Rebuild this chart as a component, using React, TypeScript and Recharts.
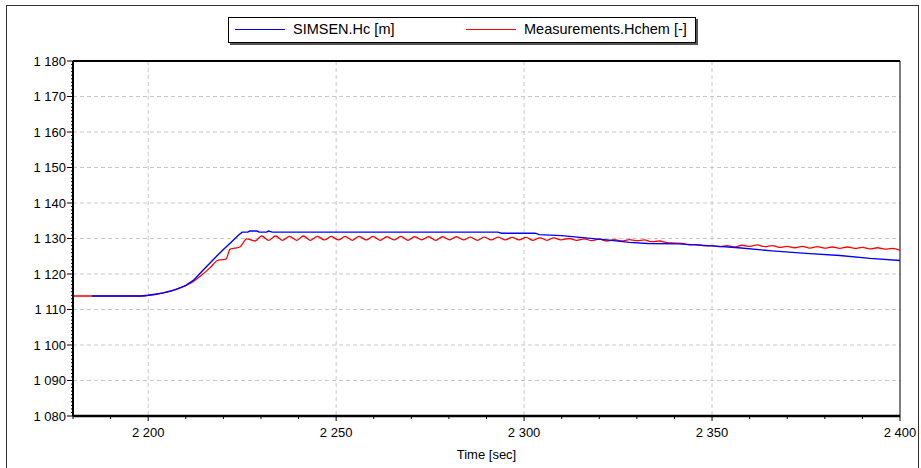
import React from 'react';
import {
    LineChart,
    Line,
    XAxis,
    YAxis,
    CartesianGrid,
    ReferenceLine,
    Label
} from 'recharts';

// SIMSEN.Hc [m]
const simsenTime = [
    2185, 2198, 2200, 2202, 2204, 2206, 2208, 2210, 2212, 2214, 2216, 2218, 2220, 2222, 2224, 2225,
    2226.5, 2227, 2229, 2229.5, 2231.5, 2232, 2233, 2293, 2294, 2303, 2304, 2310,
    2317, 2322, 2328, 2333, 2341, 2349, 2357, 2366, 2375, 2384, 2392, 2400
];
const simsenValues = [
    1113.8, 1113.8, 1114.0, 1114.3, 1114.7, 1115.2, 1115.9, 1116.8, 1118.2, 1120.4, 1122.6, 1124.8, 1126.9, 1128.9, 1130.9, 1131.8,
    1131.8, 1132.1, 1132.1, 1131.8, 1131.8, 1132.1, 1131.8, 1131.8, 1131.5, 1131.5, 1131.1, 1130.8,
    1130.1, 1129.6, 1128.9, 1128.6, 1128.5, 1128.0, 1127.4, 1126.5, 1125.8, 1125.2, 1124.4, 1123.8
];

// Measurements.Hchem [-]
const measTime = [
    2180, 2199, 2200, 2202, 2204, 2206, 2208, 2210, 2212, 2214, 2216.5, 2218.4, 2219.5, 2220.7, 2221.8, 2223, 2224.4, 2226.2,
    2228.4, 2230.2, 2232.1, 2233.9, 2235.8, 2237.6, 2239.5, 2241.3, 2243.2, 2245.0, 2246.9, 2248.7,
    2250.6, 2252.4, 2254.3, 2256.1, 2258.0, 2259.8, 2261.7, 2263.5, 2265.4, 2267.2, 2269.1, 2270.9,
    2272.8, 2274.6, 2276.5, 2278.3, 2280.2, 2282.0, 2283.9, 2285.7, 2287.6, 2289.4, 2291.3, 2293.1,
    2295.0, 2296.8, 2298.7, 2300.5, 2302.4, 2304.2, 2306.1, 2307.9, 2309.8,
    2312, 2314, 2316, 2318, 2320, 2322, 2324, 2326, 2328, 2330, 2332, 2334, 2336, 2338, 2340,
    2342, 2344, 2346, 2348, 2350, 2352, 2354, 2356, 2358, 2360, 2362, 2364, 2366, 2368, 2370,
    2372, 2374, 2376, 2378, 2380, 2382, 2384, 2386, 2388, 2390, 2392, 2394, 2396, 2398, 2400
];
const measValues = [
    1113.8, 1113.8, 1114.0, 1114.3, 1114.7, 1115.2, 1115.9, 1116.7, 1117.9, 1119.5, 1121.8, 1123.8, 1124.0, 1124.2, 1127.0, 1127.3, 1127.6, 1129.9,
    1129.3, 1130.7, 1129.5, 1130.7, 1129.5, 1130.6, 1129.5, 1130.7, 1129.5, 1130.6, 1129.6, 1130.6,
    1129.6, 1130.6, 1129.5, 1130.6, 1129.6, 1130.6, 1129.5, 1130.5, 1129.6, 1130.6, 1129.5, 1130.5,
    1129.6, 1130.5, 1129.5, 1130.5, 1129.6, 1130.5, 1129.6, 1130.4, 1129.5, 1130.4, 1129.6, 1130.4,
    1129.6, 1130.3, 1129.6, 1130.3, 1129.5, 1130.2, 1129.5, 1130.2, 1129.6,
    1130.0, 1129.5, 1129.9, 1129.4, 1129.8, 1129.3, 1129.7, 1129.3, 1129.7, 1129.4, 1129.6, 1129.1, 1129.3, 1128.8, 1128.7,
    1128.6, 1128.2, 1128.3, 1127.9, 1128.0, 1127.7, 1128.0, 1127.6, 1128.1, 1127.8, 1128.2, 1127.7, 1128.0, 1127.5, 1127.8,
    1127.4, 1127.8, 1127.3, 1127.7, 1127.3, 1127.6, 1127.2, 1127.6, 1127.2, 1127.5, 1127.1, 1127.4, 1127.0, 1127.2, 1126.7
];

const seriesNames = ['SIMSEN.Hc [m]', 'Measurements.Hchem [-]'];
const seriesColors = ['#0000ff', '#ff0000'];

const xTicks = [
    2180, 2190, 2200, 2210, 2220, 2230, 2240, 2250, 2260, 2270, 2280, 2290, 2300,
    2310, 2320, 2330, 2340, 2350, 2360, 2370, 2380, 2390, 2400
];
const xGrid = [2200, 2250, 2300, 2350];
const yMajor = [1080, 1090, 1100, 1110, 1120, 1130, 1140, 1150, 1160, 1170, 1180];
const yGrid = [1090, 1100, 1110, 1120, 1130, 1140, 1150, 1160, 1170];

const FONT = '"Liberation Sans", Arial, sans-serif';

const simsenData = simsenTime.map((t, i) => ({ t, v: simsenValues[i] }));
const measData = measTime.map((t, i) => ({ t, v: measValues[i] }));

// 副目盛り（1単位ごと）も含めたY軸の目盛り
const yTicks: number[] = [];
for (let v = yMajor[0]; v <= yMajor[yMajor.length - 1]; v++) yTicks.push(v);

// "1180" -> "1 180"
const fmt = (n: number) => `${Math.floor(n / 1000)} ${String(n % 1000).padStart(3, '0')}`;

const YTick = (props: any) => {
    const { x, y, payload } = props;
    const major = payload.value % 10 === 0;
    return (
        <g>
            <line x1={x - (major ? 6 : 2)} x2={x} y1={y} y2={y} stroke="#000" />
            {major && (
                <text x={x - 7} y={y} dy={4.5} textAnchor="end" fontSize={13} fontFamily={FONT} fill="#000">
                    {fmt(payload.value)}
                </text>
            )}
        </g>
    );
};

const XTick = (props: any) => {
    const { x, y, payload } = props;
    const major = payload.value % 50 === 0;
    return (
        <g>
            <line x1={x} x2={x} y1={y} y2={y + (major ? 5 : 3)} stroke="#000" />
            {major && (
                <text x={x} y={y + 21} textAnchor="middle" fontSize={13} fontFamily={FONT} fill="#000">
                    {fmt(payload.value)}
                </text>
            )}
        </g>
    );
};

const ChartLegend = () => (
    <div style={{
        position: 'absolute',
        left: 228,
        top: 17,
        width: 466,
        height: 24,
        border: '1px solid #000',
        background: '#fff',
        boxShadow: '2px 2px 0 #555',
        fontFamily: FONT,
        fontSize: 14.5,
        color: '#000'
    }}>
        {seriesNames.map((name, i) => (
            <div key={name} style={{ position: 'absolute', left: i === 0 ? 6 : 237, top: 3, display: 'flex', alignItems: 'center', whiteSpace: 'nowrap' }}>
                <svg width={50} height={3} style={{ marginRight: 8 }}>
                    <line x1={0} x2={50} y1={1.5} y2={1.5} stroke={seriesColors[i]} strokeWidth={1} shapeRendering="crispEdges" />
                </svg>
                <span>{name}</span>
            </div>
        ))}
    </div>
);

export default function App() {
    return (
        <div style={{ position: 'absolute', left: 0, top: 0, width: 921, height: 468, background: '#fff', overflow: 'hidden' }}>
            {/* 外枠 */}
            <div style={{ position: 'absolute', left: 6, top: 5, width: 911, height: 470, border: '1px solid #333' }} />
            <LineChart
                width={921}
                height={468}
                data={measData}
                margin={{ top: 61, right: 21, bottom: 0, left: 0 }}
                style={{ position: 'absolute', left: 0, top: 0 }}
            >
                <CartesianGrid
                    stroke="#c8c8c8"
                    strokeDasharray="4 3"
                    horizontalValues={yGrid}
                    verticalValues={xGrid}
                />
                <XAxis
                    dataKey="t"
                    type="number"
                    domain={[2180, 2400]}
                    ticks={xTicks}
                    interval={0}
                    allowDataOverflow
                    height={52}
                    tickSize={0}
                    tickMargin={0}
                    tickLine={false}
                    axisLine={{ stroke: '#000', strokeWidth: 2.5 }}
                    tick={<XTick />}
                >
                    <Label value="Time  [sec]" position="insideBottom" offset={9} fontSize={13} fontFamily={FONT} fill="#000" style={{ whiteSpace: 'pre' }} />
                </XAxis>
                <YAxis
                    type="number"
                    domain={[1080, 1180]}
                    ticks={yTicks}
                    interval={0}
                    allowDataOverflow
                    width={73}
                    tickSize={0}
                    tickMargin={0}
                    tickLine={false}
                    axisLine={{ stroke: '#000', strokeWidth: 2 }}
                    tick={<YTick />}
                />
                <ReferenceLine y={1180} stroke="#000" strokeWidth={2} />
                <ReferenceLine x={2400} stroke="#000" strokeWidth={1} />
                <Line
                    data={measData}
                    dataKey="v"
                    type="monotone"
                    stroke={seriesColors[1]}
                    strokeWidth={1.3}
                    dot={false}
                    isAnimationActive={false}
                />
                <Line
                    data={simsenData}
                    dataKey="v"
                    type="linear"
                    stroke={seriesColors[0]}
                    strokeWidth={1.4}
                    dot={false}
                    isAnimationActive={false}
                />
            </LineChart>
            <ChartLegend />
        </div>
    );
}
